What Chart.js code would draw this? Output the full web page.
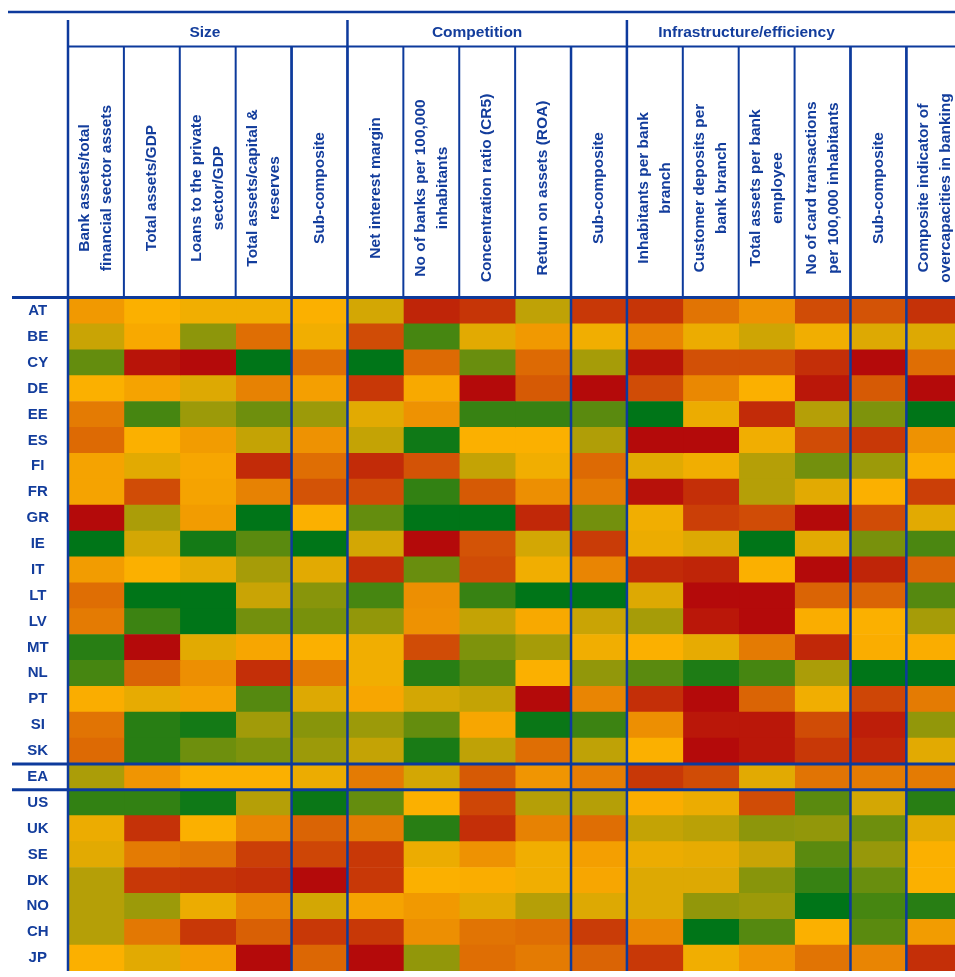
<!DOCTYPE html>
<html>
<head>
<meta charset="utf-8">
<script src="https://cdn.jsdelivr.net/npm/chart.js@4.4.0/dist/chart.umd.min.js"></script>
<style>
	html, body { margin: 0; padding: 0; background: #fff; }
</style>
</head>
<body>
<canvas id="myChart" width="955" height="977"></canvas>
<script>
// row labels (countries), top to bottom
var countries = ['AT', 'BE', 'CY', 'DE', 'EE', 'ES', 'FI', 'FR', 'GR', 'IE', 'IT', 'LT', 'LV', 'MT', 'NL', 'PT', 'SI', 'SK',
	'EA', 'US', 'UK', 'SE', 'DK', 'NO', 'CH', 'JP'];

// column headers, one entry per line of text
var indicators = [
	['Bank assets/total', 'financial sector assets'],
	['Total assets/GDP'],
	['Loans to the private', 'sector/GDP'],
	['Total assets/capital &', 'reserves'],
	['Sub-composite'],
	['Net interest margin'],
	['No of banks per 100,000', 'inhabitants'],
	['Concentration ratio (CR5)'],
	['Return on assets (ROA)'],
	['Sub-composite'],
	['Inhabitants per bank', 'branch'],
	['Customer deposits per', 'bank branch'],
	['Total assets per bank', 'employee'],
	['No of card transactions', 'per 100,000 inhabitants'],
	['Sub-composite'],
	['Composite indicator of', 'overcapacities in banking']
];

var groupNames = ['Size', 'Competition', 'Infrastructure/efficiency'];
var groupFirstCol = [0, 5, 10];
var groupLastCol = [4, 9, 14];

// colour score per cell: 0 = green, 50 = yellow, 100 = red
var AT = [57, 50, 48, 48, 50, 42, 92, 87, 38, 86, 87, 68, 59, 80, 78, 88];
var BE = [40, 52, 28, 70, 48, 80, 14, 45, 57, 48, 63, 47, 41, 48, 44, 44];
var CY = [20, 97, 100, 0, 70, 0, 71, 21, 71, 33, 97, 79, 79, 89, 100, 70];
var DE = [50, 54, 44, 64, 55, 86, 52, 100, 76, 100, 80, 62, 50, 96, 76, 100];
var EE = [66, 14, 31, 22, 31, 45, 59, 11, 11, 18, 0, 47, 90, 36, 25, 0];
var ES = [71, 50, 56, 39, 59, 39, 3, 50, 50, 35, 100, 100, 48, 80, 86, 59];
var FI = [54, 45, 53, 90, 70, 90, 78, 39, 48, 71, 45, 48, 36, 23, 31, 51];
var FR = [54, 80, 54, 64, 78, 80, 10, 76, 60, 66, 98, 89, 36, 45, 50, 84];
var GR = [100, 34, 56, 0, 50, 20, 0, 0, 91, 23, 48, 84, 80, 100, 80, 45];
var IE = [0, 42, 4, 18, 0, 42, 100, 78, 42, 85, 47, 44, 0, 45, 24, 15];
var IT = [56, 50, 46, 33, 45, 89, 21, 80, 48, 63, 90, 92, 50, 100, 92, 73];
var LT = [70, 0, 0, 40, 27, 14, 60, 11, 0, 0, 44, 100, 100, 73, 73, 17];
var LV = [66, 12, 0, 23, 24, 29, 59, 39, 52, 40, 33, 96, 100, 51, 50, 33];
var MT = [8, 100, 45, 53, 50, 48, 80, 25, 33, 48, 50, 46, 66, 91, 51, 51];
var NL = [14, 73, 60, 89, 66, 48, 8, 18, 50, 29, 18, 6, 14, 34, 0, 0];
var PT = [51, 46, 54, 17, 44, 53, 42, 39, 100, 63, 89, 100, 73, 48, 82, 66];
var SI = [68, 8, 4, 32, 27, 31, 20, 53, 2, 12, 60, 96, 96, 80, 94, 29];
var SK = [71, 8, 22, 25, 31, 39, 5, 38, 70, 38, 50, 100, 96, 86, 91, 45];
var EA = [34, 58, 50, 50, 47, 66, 42, 76, 58, 65, 86, 80, 45, 68, 66, 66];
var US = [10, 10, 3, 36, 2, 20, 50, 82, 36, 36, 51, 47, 80, 18, 42, 8];
var UK = [47, 88, 50, 63, 73, 66, 8, 89, 64, 70, 39, 37, 28, 29, 22, 45];
var SE = [45, 66, 68, 84, 82, 86, 47, 59, 48, 55, 47, 46, 40, 18, 30, 50];
var DK = [36, 86, 87, 89, 100, 86, 50, 51, 48, 53, 44, 44, 27, 11, 21, 50];
var NO = [36, 31, 47, 63, 42, 54, 57, 45, 36, 44, 44, 29, 31, 0, 14, 8];
var CH = [36, 67, 86, 74, 86, 86, 60, 68, 70, 85, 62, 0, 17, 50, 18, 56];
var JP = [50, 45, 55, 100, 72, 100, 29, 70, 66, 73, 86, 48, 58, 68, 63, 89];

var scores = [AT, BE, CY, DE, EE, ES, FI, FR, GR, IE, IT, LT, LV, MT, NL, PT, SI, SK, EA, US, UK, SE, DK, NO, CH, JP];

var BLUE = '#0d3a9c';
var TEXT = '#133d9c';
var FONT = '"Liberation Sans", Arial, sans-serif';

function scoreColor(v) {
	var lo = [0, 117, 24], mid = [251, 176, 0], hi = [180, 10, 10];
	var a, b, t;
	if (v <= 50) { a = lo; b = mid; t = v / 50; }
	else { a = mid; b = hi; t = (v - 50) / 50; }
	return 'rgb(' + a.map(function(k, i){ return Math.round(k + (b[i] - k) * t); }).join(',') + ')';
}

var datasets = indicators.map(function(name, c){
	return {
		label: name.join(' '),
		data: countries.map(function(){ return [c, c + 1]; }),
		backgroundColor: countries.map(function(cc, r){ return scoreColor(scores[r][c]); }),
		borderWidth: 0,
		barPercentage: 1,
		categoryPercentage: 1,
		grouped: false
	};
});

// table frame and header texts
var framePlugin = {
	id: 'frame',
	afterDraw: function(chart){
		var ctx = chart.ctx;
		var xs = chart.scales.x, ys = chart.scales.y, area = chart.chartArea;
		var rowH = ys.getPixelForValue(1) - ys.getPixelForValue(0);
		var colX = function(v){ return xs.getPixelForValue(v); };
		var rowTop = function(i){ return ys.getPixelForValue(i) - rowH / 2; };
		var right = chart.width;

		ctx.save();
		ctx.strokeStyle = BLUE;

		function line(x1, y1, x2, y2, w){
			ctx.lineWidth = w;
			ctx.beginPath();
			ctx.moveTo(x1, y1);
			ctx.lineTo(x2, y2);
			ctx.stroke();
		}

		// vertical lines in header
		for (var c = 1; c < indicators.length; c++) {
			line(colX(c), 46, colX(c), area.top, 2);
		}
		// full height lines: left edge and group borders
		line(colX(0), 20, colX(0), area.bottom, 2.5);
		groupFirstCol.forEach(function(g){ if (g > 0) line(colX(g), 20, colX(g), area.bottom, 2.5); });
		// sub-composite / composite separators through the data
		[4, 9, 14, 15].forEach(function(c){ line(colX(c), 46, colX(c), area.bottom, 2.5); });

		// horizontal lines
		line(8, 12, right, 12, 2.5);
		line(colX(0), 46.5, right, 46.5, 2);
		line(12, area.top - 0.5, right, area.top - 0.5, 3);
		var ea = countries.indexOf('EA');
		line(12, rowTop(ea), right, rowTop(ea), 3);
		line(12, rowTop(ea + 1), right, rowTop(ea + 1), 3);

		// group titles
		ctx.fillStyle = TEXT;
		ctx.font = 'bold 15.5px ' + FONT;
		ctx.textAlign = 'center';
		ctx.textBaseline = 'middle';
		var groupCenter = [2.45, 7.32, 12.14];
		groupNames.forEach(function(name, g){
			ctx.fillText(name, colX(groupCenter[g]), 33);
		});

		// rotated column titles
		indicators.forEach(function(lines, c){
			ctx.save();
			ctx.translate(colX(c + 0.5), 188);
			ctx.rotate(-Math.PI / 2);
			var n = lines.length;
			lines.forEach(function(txt, i){
				ctx.fillText(txt, 0, (i - (n - 1) / 2) * 22);
			});
			ctx.restore();
		});
		ctx.restore();
	}
};

var ctx = document.getElementById('myChart');
var myChart = new Chart(ctx, {
	type: 'bar',
	data: {
		labels: countries,
		datasets: datasets
	},
	options: {
		indexAxis: 'y',
		responsive: false,
		animation: false,
		layout: { padding: { top: 298, bottom: 6, left: 0, right: 0 } },
		plugins: {
			legend: { display: false },
			tooltip: { enabled: false }
		},
		scales: {
			x: { type: 'linear', min: 0, max: 15.87, display: false },
			y: {
				type: 'category',
				offset: true,
				grid: { display: false, drawTicks: false },
				border: { display: false },
				ticks: {
					color: TEXT,
					font: { family: FONT, size: 15, weight: 'bold' },
					crossAlign: 'center',
					padding: 19
				},
				afterFit: function(scale){
					scale.width = 68;
					// tick padding must not shrink the grid
					scale.paddingTop = 0;
					scale.paddingBottom = 0;
				}
			}
		}
	},
	plugins: [framePlugin]
});
</script>
</body>
</html>
